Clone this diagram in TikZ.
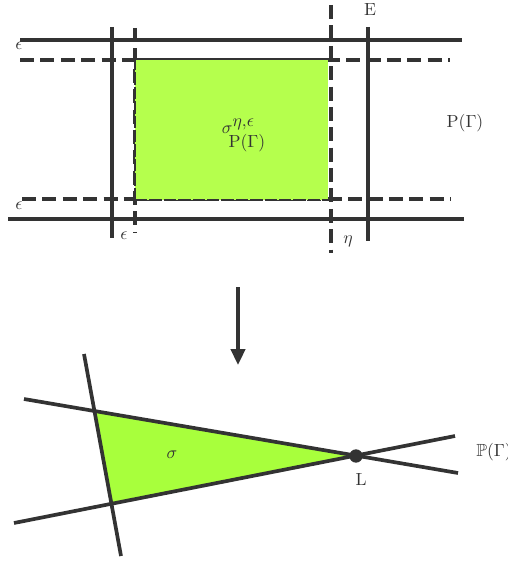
\documentclass[tikz,border=0pt]{standalone}
\usepackage{amssymb}
\usetikzlibrary{arrows.meta}
\definecolor{ink}{HTML}{333333}
\definecolor{lime}{HTML}{B5FF4D}
\definecolor{limetri}{HTML}{A8FF3C}
\tikzset{
  solidline/.style={ink,line width=2.1pt},
  dashline/.style={ink,line width=2.1pt,dash pattern=on 8pt off 3.6pt},
  lbl/.style={text=ink,inner sep=0pt},
}
\begin{document}
\begin{tikzpicture}[x=0.02cm,y=-0.02cm]
\useasboundingbox (0,0) rectangle (507,563);
% top: strips
\draw[solidline] (20,40) -- (462,40);
\draw[dashline] (20,60) -- (450,60);
\draw[dashline] (22,199) -- (451,199);
\draw[solidline] (8,219) -- (464,219);
\draw[solidline] (112,27) -- (112,238);
\draw[dashline] (135,28) -- (135,232);
\draw[solidline] (368,27) -- (368,241);
\fill[lime] (135,58) rectangle (328,200);
\draw[ink,line width=0.7pt,dash pattern=on 7pt off 1.2pt] (135,200) -- (135,59);
\draw[ink,line width=0.7pt,dash pattern=on 7pt off 1.2pt] (135,200) -- (328,200);
\draw[ink,line width=0.7pt] (135,59) -- (328,59);
\draw[dashline] (331,5) -- (331,253);
\node[lbl] (eps1) at (19,46) {$\epsilon$};
\node[lbl] (eps2) at (19,206) {$\epsilon$};
\node[lbl] (eps3) at (124,236) {$\epsilon$};
\node[lbl] (eta) at (348,241) {$\eta$};
\node[lbl] (E) at (370,10) {E};
\node[lbl] (PG1) at (465,123) {P($\Gamma$)};
\node[lbl] (sig1) at (238,126) {$\sigma$\raisebox{0.9ex}{$\eta{,}\epsilon$}};
\node[lbl] (PG2) at (247,143) {P($\Gamma$)};
% arrow
\coordinate (a1) at (238,287);
\coordinate (a2) at (238,365);
\draw[solidline,-{Triangle[length=9pt,width=8pt]}] (a1) -- (a2);
% bottom: triangle
\coordinate (L) at (356,456);
\fill[limetri] (95,411) -- (L) -- (111,503) -- cycle;
\draw[solidline] (24,399) -- (458,473);
\draw[solidline] (14,523) -- (455,436);
\draw[solidline] (84,354) -- (121,556);
\fill[ink] (L) circle (3.8pt);
\node[lbl] (Llbl) at (361,479) {L};
\node[lbl] (sig2) at (172,455) {$\sigma$};
\node[lbl,anchor=west] (PG3) at (476,452) {$\mathbb{P}$($\Gamma$)};
\end{tikzpicture}
\end{document}
